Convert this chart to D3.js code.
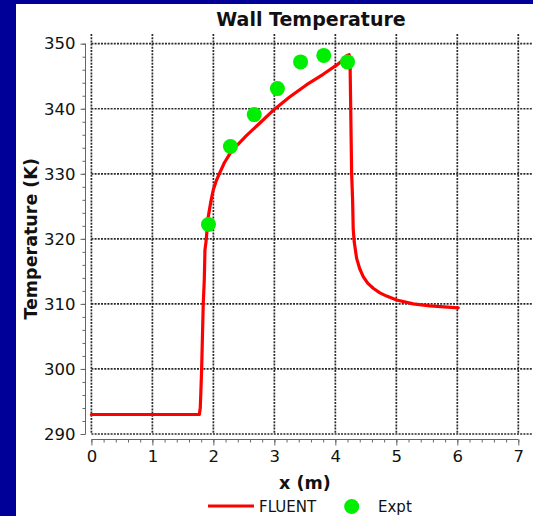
<!DOCTYPE html>
<html>
<head>
<meta charset="utf-8">
<script src="https://cdn.jsdelivr.net/npm/d3@7"></script>
<style>
  html, body { margin: 0; padding: 0; background: #000099; }
  svg { display: block; }
  text { font-family: "DejaVu Sans", Verdana, sans-serif; fill: #111; }
</style>
</head>
<body>
<svg id="chart" width="533" height="516"></svg>
<script>
// ---- data ----
const chartTitle = "Wall Temperature";
const xTitle = "x (m)";
const yTitle = "Temperature (K)";
const seriesNames = ["FLUENT", "Expt"];
const xTicks = [0, 1, 2, 3, 4, 5, 6, 7];
const yTicks = [290, 300, 310, 320, 330, 340, 350];

// FLUENT simulation (line)
const fluentX = [0, 1.77, 1.785, 1.795, 1.808, 1.834, 1.851, 1.862, 1.879, 1.916, 1.96, 1.998, 2.05, 2.097, 2.18, 2.272, 2.4, 2.546, 2.75, 2.998, 3.25, 3.53, 3.8, 4.02, 4.15, 4.19, 4.225, 4.24, 4.25, 4.267, 4.283, 4.293, 4.31, 4.349, 4.4, 4.457, 4.53, 4.621, 4.73, 4.841, 5.005, 5.277, 5.551, 6.015];
const fluentT = [293.0, 293.0, 294.0, 296.5, 300.1, 310.0, 313.7, 318.3, 319.5, 323.4, 325.8, 327.5, 329.0, 330.0, 331.7, 333.1, 334.5, 335.9, 337.7, 339.9, 341.8, 343.7, 345.3, 346.7, 347.7, 348.2, 348.3, 347.8, 341.4, 330.1, 326.0, 321.5, 319.5, 317.0, 315.4, 314.2, 313.2, 312.4, 311.7, 311.2, 310.6, 310.0, 309.7, 309.4];

// Experiment (points)
const exptX = [1.92, 2.28, 2.67, 3.05, 3.43, 3.81, 4.2];
const exptT = [322.2, 334.2, 339.1, 343.1, 347.2, 348.2, 347.2];

// ---- layout ----
const svg = d3.select("#chart");
const W = 533, H = 516;
const plotL = 91.4, plotR = 533, plotT = 34, plotB = 434;

svg.append("rect").attr("x", 0).attr("y", 0).attr("width", W).attr("height", H).attr("fill", "#000099");
svg.append("rect").attr("x", 16).attr("y", 4).attr("width", W - 16).attr("height", H - 4).attr("fill", "#ffffff");

const x = d3.scaleLinear().domain([0, 7]).range([91.4, 518.3]);
const y = d3.scaleLinear().domain([290, 350]).range([434, 43.7]);

// ---- gridlines ----
const grid = svg.append("g").attr("stroke", "#2a2a2a").attr("stroke-width", 1.7).attr("stroke-dasharray", "2,1.2");
grid.selectAll("line.v").data(xTicks).join("line")
  .attr("x1", d => x(d)).attr("x2", d => x(d))
  .attr("y1", plotT).attr("y2", plotB);
grid.selectAll("line.h").data(yTicks).join("line")
  .attr("x1", plotL).attr("x2", plotR)
  .attr("y1", d => y(d)).attr("y2", d => y(d));

// ---- axes ----
const yAxisX = 85.5;
const yAxisG = svg.append("g").attr("transform", `translate(${yAxisX},0)`);
yAxisG.call(d3.axisLeft(y).tickValues(d3.range(290, 350.1, 2)).tickSize(3).tickFormat(""))
  .call(g => g.select(".domain").remove());
yAxisG.call(g => g.append("g").call(d3.axisLeft(y).tickValues(yTicks).tickSize(5).tickPadding(5)));
yAxisG.selectAll("line, path").attr("stroke", "#666");
yAxisG.selectAll("text").attr("font-size", "16.5px").attr("fill", "#111").attr("font-family", "DejaVu Sans, sans-serif");
yAxisG.selectAll(".domain").attr("d", `M0,${y(350)}V${y(290)}`);

const xAxisY = 439.5;
const xAxisG = svg.append("g").attr("transform", `translate(0,${xAxisY})`);
xAxisG.call(d3.axisBottom(x).tickValues(d3.range(0, 7.01, 0.2)).tickSize(3).tickFormat(""))
  .call(g => g.select(".domain").remove());
xAxisG.call(g => g.append("g").call(d3.axisBottom(x).tickValues(xTicks).tickSize(6).tickPadding(5).tickFormat(d3.format("d"))));
xAxisG.selectAll("line, path").attr("stroke", "#666");
xAxisG.selectAll("text").attr("font-size", "16.5px").attr("fill", "#111").attr("font-family", "DejaVu Sans, sans-serif");
xAxisG.selectAll(".domain").attr("d", `M${x(0)},0H${x(7)}`);

// ---- titles ----
svg.append("text").attr("x", 311).attr("y", 25.5).attr("text-anchor", "middle")
  .attr("font-size", "19px").attr("font-weight", "bold").text(chartTitle);
svg.append("text").attr("x", (x(0) + x(7)) / 2).attr("y", 489).attr("text-anchor", "middle")
  .attr("font-size", "17.5px").attr("font-weight", "bold").text(xTitle);
svg.append("text").attr("transform", `translate(37,${(y(290) + y(350)) / 2}) rotate(-90)`)
  .attr("text-anchor", "middle").attr("font-size", "17.5px").attr("font-weight", "bold").text(yTitle);

// ---- data marks ----
const fluent = fluentX.map((v, i) => [v, fluentT[i]]);
svg.append("path").datum(fluent)
  .attr("fill", "none").attr("stroke", "#ff0000").attr("stroke-width", 3.2)
  .attr("stroke-linejoin", "round").attr("stroke-linecap", "round")
  .attr("d", d3.line().x(d => x(d[0])).y(d => y(d[1])));

const expt = exptX.map((v, i) => [v, exptT[i]]);
svg.append("g").selectAll("circle").data(expt).join("circle")
  .attr("cx", d => x(d[0])).attr("cy", d => y(d[1])).attr("r", 7.5)
  .attr("fill", "#00ee00");

// ---- legend ----
const leg = svg.append("g");
leg.append("line").attr("x1", 208).attr("x2", 254).attr("y1", 506).attr("y2", 506)
  .attr("stroke", "#ff0000").attr("stroke-width", 3.2);
leg.append("text").attr("x", 259).attr("y", 511.5).attr("font-size", "15px").text(seriesNames[0]);
leg.append("circle").attr("cx", 351.7).attr("cy", 506.5).attr("r", 7.5).attr("fill", "#00ee00");
leg.append("text").attr("x", 378).attr("y", 511.5).attr("font-size", "15px").text(seriesNames[1]);
</script>
</body>
</html>
